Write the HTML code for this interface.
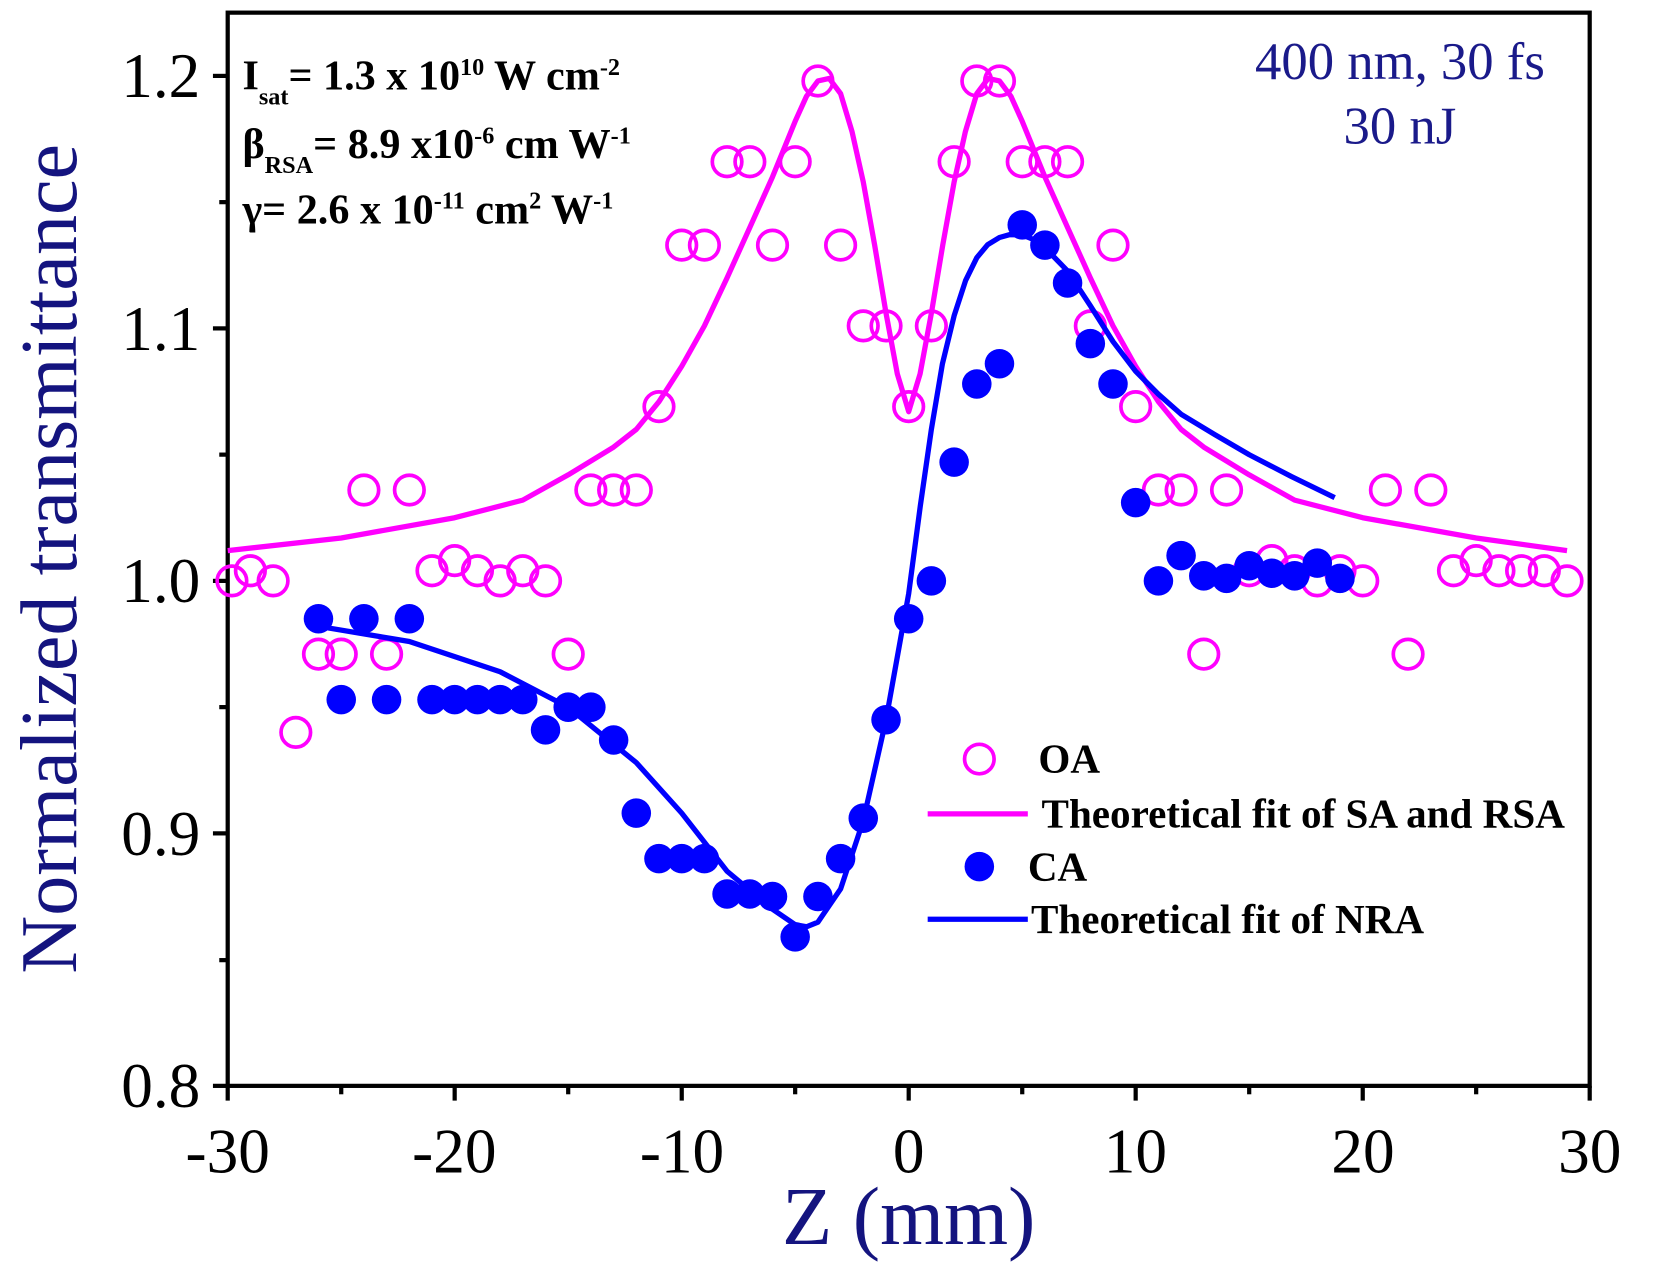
<!DOCTYPE html>
<html><head><meta charset="utf-8"><style>html,body{margin:0;padding:0;background:#fff}svg{display:block}
.o{fill:none;stroke:#ff00ff;stroke-width:3.5}.c{fill:#0000ff}</style></head>
<body>
<svg width="1654" height="1283" viewBox="0 0 1569 1217" preserveAspectRatio="none" xmlns="http://www.w3.org/2000/svg" font-family="Liberation Serif, serif">
<rect x="216" y="12" width="1292" height="1018" stroke="#000" stroke-width="4" fill="none"/>
<g stroke="#000" stroke-width="4">
<line x1="216" y1="1030" x2="216" y2="1044"/><line x1="323.7" y1="1030" x2="323.7" y2="1038"/>
<line x1="431.3" y1="1030" x2="431.3" y2="1044"/><line x1="539" y1="1030" x2="539" y2="1038"/>
<line x1="646.7" y1="1030" x2="646.7" y2="1044"/><line x1="754.3" y1="1030" x2="754.3" y2="1038"/>
<line x1="862" y1="1030" x2="862" y2="1044"/><line x1="969.7" y1="1030" x2="969.7" y2="1038"/>
<line x1="1077.3" y1="1030" x2="1077.3" y2="1044"/><line x1="1185" y1="1030" x2="1185" y2="1038"/>
<line x1="1292.7" y1="1030" x2="1292.7" y2="1044"/><line x1="1400.3" y1="1030" x2="1400.3" y2="1038"/>
<line x1="1508" y1="1030" x2="1508" y2="1044"/>
<line x1="216" y1="1030" x2="202" y2="1030"/><line x1="216" y1="910.75" x2="208" y2="910.75"/>
<line x1="216" y1="790.5" x2="202" y2="790.5"/><line x1="216" y1="670.75" x2="208" y2="670.75"/>
<line x1="216" y1="551" x2="202" y2="551"/><line x1="216" y1="431.25" x2="208" y2="431.25"/>
<line x1="216" y1="311.5" x2="202" y2="311.5"/><line x1="216" y1="191.75" x2="208" y2="191.75"/>
<line x1="216" y1="72" x2="202" y2="72"/>
</g>
<g font-size="60" fill="#000" text-anchor="middle">
<text x="216" y="1112">-30</text><text x="431" y="1112">-20</text><text x="647" y="1112">-10</text>
<text x="862" y="1112">0</text><text x="1077" y="1112">10</text><text x="1293" y="1112">20</text><text x="1508" y="1112">30</text>
</g>
<g font-size="60" fill="#000" text-anchor="end">
<text x="190" y="92">1.2</text><text x="190" y="332">1.1</text><text x="190" y="571">1.0</text>
<text x="190" y="811">0.9</text><text x="190" y="1050">0.8</text>
</g>
<text transform="translate(72,530) rotate(-90)" font-size="76" fill="#14147f" text-anchor="middle">Normalized transmittance</text>
<text x="862" y="1180" font-size="78" fill="#14147f" text-anchor="middle">Z (mm)</text>
<text x="1328" y="75" font-size="50" fill="#1a1a8a" text-anchor="middle">400 nm, 30 fs</text>
<text x="1328" y="136" font-size="50" fill="#1a1a8a" text-anchor="middle">30 nJ</text>
<g font-size="40" font-weight="bold" fill="#000">
<text x="230" y="85">I<tspan font-size="23" dy="14">sat</tspan><tspan dy="-14">= 1.3 x 10</tspan><tspan font-size="23" dy="-14">10</tspan><tspan dy="14">  W cm</tspan><tspan font-size="23" dy="-14">-2</tspan></text>
<text x="230" y="150">β<tspan font-size="23" dy="14">RSA</tspan><tspan dy="-14">= 8.9 x10</tspan><tspan font-size="23" dy="-14">-6</tspan><tspan dy="14"> cm W</tspan><tspan font-size="23" dy="-14">-1</tspan></text>
<text x="230" y="212">γ= 2.6 x 10<tspan font-size="23" dy="-14">-11</tspan><tspan dy="14"> cm</tspan><tspan font-size="23" dy="-14">2</tspan><tspan dy="14"> W</tspan><tspan font-size="23" dy="-14">-1</tspan></text>
</g>
<polyline fill="none" stroke="#ff00ff" stroke-width="5" stroke-linejoin="round" points="216,522.3 323.7,510.3 431.3,491.1 495.9,474.4 539,450.4 582.1,424.1 603.6,407.3 625.1,381 646.7,347.4 668.2,309.1 689.7,263.6 711.3,215.7 732.8,167.8 754.3,115.1 765.1,91.2 775.9,76.8 786.6,74.4 797.4,88.8 808.2,124.7 818.9,172.6 829.7,232.5 840.5,297.1 851.2,354.6 862,390.5 872.8,354.6 883.5,297.1 894.3,232.5 905.1,172.6 915.8,124.7 926.6,88.8 937.4,74.4 948.1,76.8 958.9,91.2 969.7,115.1 991.2,167.8 1012.7,215.7 1034.3,263.6 1055.8,309.1 1077.3,347.4 1098.9,381 1120.4,407.3 1141.9,424.1 1185,450.4 1228.1,474.4 1292.7,491.1 1400.3,510.3 1486.5,522.3"/>
<g>
<circle class="o" r="14" cx="220" cy="551"/><circle class="o" r="14" cx="237.5" cy="541.4"/><circle class="o" r="14" cx="259.1" cy="551"/><circle class="o" r="14" cx="280.6" cy="694.7"/><circle class="o" r="14" cx="302.1" cy="620.5"/><circle class="o" r="14" cx="323.7" cy="620.5"/><circle class="o" r="14" cx="345.2" cy="464.8"/><circle class="o" r="14" cx="366.7" cy="620.5"/><circle class="o" r="14" cx="388.3" cy="464.8"/><circle class="o" r="14" cx="409.8" cy="541.4"/><circle class="o" r="14" cx="431.3" cy="531.8"/><circle class="o" r="14" cx="452.9" cy="541.4"/><circle class="o" r="14" cx="474.4" cy="551"/><circle class="o" r="14" cx="495.9" cy="541.4"/><circle class="o" r="14" cx="517.5" cy="551"/><circle class="o" r="14" cx="539" cy="620.5"/><circle class="o" r="14" cx="560.5" cy="464.8"/><circle class="o" r="14" cx="582.1" cy="464.8"/><circle class="o" r="14" cx="603.6" cy="464.8"/><circle class="o" r="14" cx="625.1" cy="385.7"/><circle class="o" r="14" cx="646.7" cy="232.5"/><circle class="o" r="14" cx="668.2" cy="232.5"/><circle class="o" r="14" cx="689.7" cy="153.4"/><circle class="o" r="14" cx="711.3" cy="153.4"/><circle class="o" r="14" cx="732.8" cy="232.5"/><circle class="o" r="14" cx="754.3" cy="153.4"/><circle class="o" r="14" cx="775.9" cy="76.8"/><circle class="o" r="14" cx="797.4" cy="232.5"/><circle class="o" r="14" cx="818.9" cy="309.1"/><circle class="o" r="14" cx="840.5" cy="309.1"/><circle class="o" r="14" cx="862" cy="385.7"/><circle class="o" r="14" cx="883.5" cy="309.1"/><circle class="o" r="14" cx="905.1" cy="153.4"/><circle class="o" r="14" cx="926.6" cy="76.8"/><circle class="o" r="14" cx="948.1" cy="76.8"/><circle class="o" r="14" cx="969.7" cy="153.4"/><circle class="o" r="14" cx="991.2" cy="153.4"/><circle class="o" r="14" cx="1012.7" cy="153.4"/><circle class="o" r="14" cx="1034.3" cy="309.1"/><circle class="o" r="14" cx="1055.8" cy="232.5"/><circle class="o" r="14" cx="1077.3" cy="385.7"/><circle class="o" r="14" cx="1098.9" cy="464.8"/><circle class="o" r="14" cx="1120.4" cy="464.8"/><circle class="o" r="14" cx="1141.9" cy="620.5"/><circle class="o" r="14" cx="1163.5" cy="464.8"/><circle class="o" r="14" cx="1185" cy="541.4"/><circle class="o" r="14" cx="1206.5" cy="531.8"/><circle class="o" r="14" cx="1228.1" cy="541.4"/><circle class="o" r="14" cx="1249.6" cy="551"/><circle class="o" r="14" cx="1271.1" cy="541.4"/><circle class="o" r="14" cx="1292.7" cy="551"/><circle class="o" r="14" cx="1314.2" cy="464.8"/><circle class="o" r="14" cx="1335.7" cy="620.5"/><circle class="o" r="14" cx="1357.3" cy="464.8"/><circle class="o" r="14" cx="1378.8" cy="541.4"/><circle class="o" r="14" cx="1400.3" cy="531.8"/><circle class="o" r="14" cx="1421.9" cy="541.4"/><circle class="o" r="14" cx="1443.4" cy="541.4"/><circle class="o" r="14" cx="1464.9" cy="541.4"/><circle class="o" r="14" cx="1486.5" cy="551"/>
</g>
<g>
<circle class="c" r="14" cx="302.1" cy="586.9"/><circle class="c" r="14" cx="323.7" cy="663.6"/><circle class="c" r="14" cx="345.2" cy="586.9"/><circle class="c" r="14" cx="366.7" cy="663.6"/><circle class="c" r="14" cx="388.3" cy="586.9"/><circle class="c" r="14" cx="409.8" cy="663.6"/><circle class="c" r="14" cx="431.3" cy="663.6"/><circle class="c" r="14" cx="452.9" cy="663.6"/><circle class="c" r="14" cx="474.4" cy="663.6"/><circle class="c" r="14" cx="495.9" cy="663.6"/><circle class="c" r="14" cx="517.5" cy="692.3"/><circle class="c" r="14" cx="539" cy="670.8"/><circle class="c" r="14" cx="560.5" cy="670.8"/><circle class="c" r="14" cx="582.1" cy="701.9"/><circle class="c" r="14" cx="603.6" cy="771.3"/><circle class="c" r="14" cx="625.1" cy="814.5"/><circle class="c" r="14" cx="646.7" cy="814.5"/><circle class="c" r="14" cx="668.2" cy="814.5"/><circle class="c" r="14" cx="689.7" cy="848"/><circle class="c" r="14" cx="711.3" cy="848"/><circle class="c" r="14" cx="732.8" cy="850.4"/><circle class="c" r="14" cx="754.3" cy="888.7"/><circle class="c" r="14" cx="775.9" cy="850.4"/><circle class="c" r="14" cx="797.4" cy="814.5"/><circle class="c" r="14" cx="818.9" cy="776.1"/><circle class="c" r="14" cx="840.5" cy="682.7"/><circle class="c" r="14" cx="862" cy="586.9"/><circle class="c" r="14" cx="883.5" cy="551"/><circle class="c" r="14" cx="905.1" cy="438.4"/><circle class="c" r="14" cx="926.6" cy="364.2"/><circle class="c" r="14" cx="948.1" cy="345"/><circle class="c" r="14" cx="969.7" cy="213.3"/><circle class="c" r="14" cx="991.2" cy="232.5"/><circle class="c" r="14" cx="1012.7" cy="268.4"/><circle class="c" r="14" cx="1034.3" cy="325.9"/><circle class="c" r="14" cx="1055.8" cy="364.2"/><circle class="c" r="14" cx="1077.3" cy="476.8"/><circle class="c" r="14" cx="1098.9" cy="551"/><circle class="c" r="14" cx="1120.4" cy="527"/><circle class="c" r="14" cx="1141.9" cy="546.2"/><circle class="c" r="14" cx="1163.5" cy="548.6"/><circle class="c" r="14" cx="1185" cy="536.6"/><circle class="c" r="14" cx="1206.5" cy="543.8"/><circle class="c" r="14" cx="1228.1" cy="546.2"/><circle class="c" r="14" cx="1249.6" cy="534.2"/><circle class="c" r="14" cx="1271.1" cy="548.6"/>
</g>
<polyline fill="none" stroke="#0000ff" stroke-width="5" stroke-linejoin="round" points="302.1,594.1 388.3,608.5 474.4,637.2 539,670.8 603.6,723.4 646.7,771.3 689.7,826.4 732.8,862.4 754.3,877.1 765,879.1 775.9,874.7 797.4,843.2 818.9,778.5 840.5,682.7 862,563 873,480 883.5,407.3 894,345 905.1,299.5 916,266 926.6,244.4 937,232 948.1,225.3 958,222.5 969.7,222.9 980,227 991.2,234.9 1012.7,257 1034.3,290 1055.8,324 1077.3,352.2 1098.9,374 1120.4,392.9 1152,412 1185,431.3 1225,452 1266.1,472"/>
<g font-size="39" font-weight="bold" fill="#000">
<circle class="o" cx="929" cy="720" r="14"/>
<text x="985" y="733">OA</text>
<line x1="880" y1="772" x2="975" y2="772" stroke="#ff00ff" stroke-width="5"/>
<text x="988" y="785">Theoretical fit of SA and RSA</text>
<circle class="c" cx="929" cy="822" r="14"/>
<text x="975" y="835">CA</text>
<line x1="880" y1="872" x2="975" y2="872" stroke="#0000ff" stroke-width="5"/>
<text x="978" y="885">Theoretical fit of NRA</text>
</g>
</svg>
</body></html>
